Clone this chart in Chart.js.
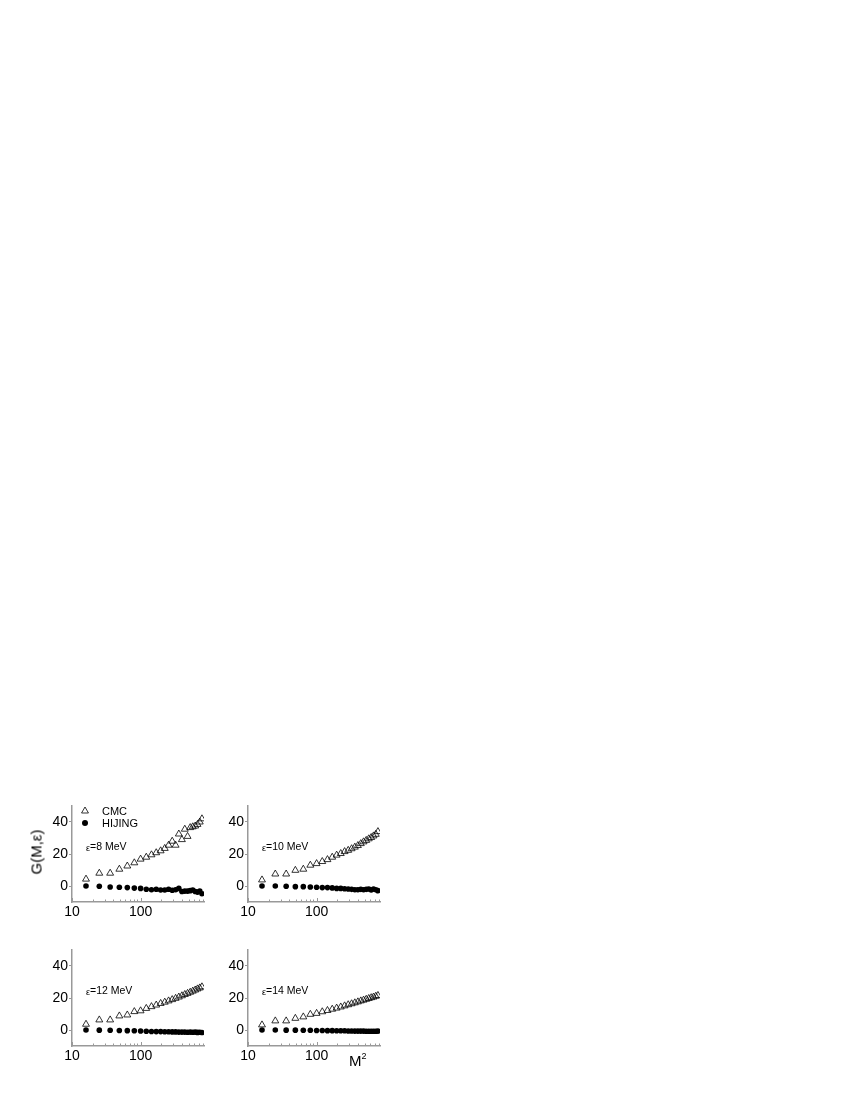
<!DOCTYPE html>
<html>
<head>
<meta charset="utf-8">
<script src="https://cdn.jsdelivr.net/npm/chart.js@4.4.0/dist/chart.umd.min.js"></script>
<style>
  html, body { margin:0; padding:0; background:#fff; }
  body { width:850px; height:1100px; position:relative; font-family:"Liberation Sans", Arial, sans-serif; }
  canvas { position:absolute; }
  .lbl { position:absolute; color:#000; font-weight:normal; font-family:"Liberation Sans", Arial, sans-serif; white-space:nowrap; }
</style>
</head>
<body>
<canvas id="p1" width="215" height="130" style="left:0px;top:795px;width:215px;height:130px"></canvas>
<canvas id="p2" width="176" height="130" style="left:215px;top:795px;width:176px;height:130px"></canvas>
<canvas id="p3" width="215" height="130" style="left:0px;top:939px;width:215px;height:130px"></canvas>
<canvas id="p4" width="176" height="130" style="left:215px;top:939px;width:176px;height:130px"></canvas>
<div class="lbl" id="ytitle" style="left:36px;top:852px;font-size:15px;transform:translate(-50%,-50%) rotate(-90deg);">G(M,ε)</div>
<div class="lbl" id="xtitle" style="left:349px;top:1052px;font-size:15px;">M<sup style="font-size:9px;vertical-align:7px;line-height:0">2</sup></div>
<script>
// ---- data ----
const xValues = [16,25,36,49,64,81,100,121,144,169,196,225,256,289,324,361,400,441,484,529,576,625,676,729,784]; // M^2
const cmc8     = [4.3,8,8,10.5,12.5,14.5,16.8,18,19.5,20.8,22,23.5,25.5,28,25.5,32.5,29,35.5,31,36.5,37,37.5,38.5,40,42];
const hijing8  = [0,-0.2,-0.6,-0.8,-1,-1.3,-1.5,-2,-2.3,-2,-2.5,-2.5,-2,-2.7,-2.3,-1.5,-3.4,-3.2,-3.2,-2.9,-2.5,-3.4,-3.8,-3.2,-4.8];
const cmc10    = [3.8,7.5,7.5,9.8,10.5,13,14,15.3,16.5,18,19.3,20.3,21.5,22.3,23.3,24.3,25.3,26.5,27.6,28.5,29.5,30.3,31.3,32.3,34];
const hijing10 = [0,0,-0.2,-0.4,-0.4,-0.6,-0.8,-1,-1,-1.2,-1.5,-1.5,-1.7,-1.9,-2.1,-2.3,-2.3,-2.1,-2.3,-2.1,-1.9,-2.5,-1.9,-2.3,-2.9];
const cmc12    = [3.6,6.3,6.3,8.8,9.4,11.5,12,13.5,14.6,15.6,16.6,17.4,18.2,19,19.8,20.6,21.4,22.2,22.9,23.6,24.3,25,25.7,26.3,27];
const hijing12 = [0,-0.1,-0.2,-0.3,-0.4,-0.5,-0.6,-0.8,-0.9,-1,-1,-1.1,-1.1,-1.2,-1.2,-1.3,-1.3,-1.3,-1.4,-1.3,-1.4,-1.3,-1.5,-1.4,-1.6];
const cmc14    = [3.2,5.7,5.7,7.3,8.2,9.8,10.4,11.4,12.2,13,13.7,14.4,15.1,15.8,16.4,17,17.6,18.2,18.7,19.2,19.7,20.2,20.6,21.1,21.6];
const hijing14 = [0,0,-0.1,-0.1,-0.2,-0.2,-0.3,-0.3,-0.4,-0.4,-0.5,-0.5,-0.5,-0.6,-0.6,-0.7,-0.7,-0.7,-0.7,-0.8,-0.8,-0.8,-0.8,-0.8,-0.7];
const seriesNames = ['CMC','HIJING'];
const panelLabels = ['ε=8 MeV','ε=10 MeV','ε=12 MeV','ε=14 MeV'];
const yTicks = [0,20,40];
const xTickValues = [10,20,30,40,50,60,70,80,90,100,200,300,400,500,600,700,800];
const xTickLabels = [10,100];

const FONT = '"Liberation Sans", Arial, sans-serif';

const annotPlugin = {
  id: 'annot',
  afterDraw(chart, args, opts) {
    const ctx = chart.ctx;
    const area = chart.chartArea;
    const ys = chart.scales.y;
    const xs = chart.scales.x;
    ctx.save();
    // inward minor/major ticks on the x axis
    ctx.strokeStyle = '#999';
    ctx.lineWidth = 1;
    xTickValues.forEach(v => {
      const px = Math.round(xs.getPixelForValue(v)) + 0.5;
      const len = xTickLabels.includes(v) ? 4 : 2.5;
      ctx.beginPath();
      ctx.moveTo(px, area.bottom);
      ctx.lineTo(px, area.bottom - len);
      ctx.stroke();
    });
    ctx.fillStyle = '#000';
    ctx.textBaseline = 'middle';
    // epsilon label
    const lab = opts.label;
    const ly = ys.getPixelForValue(24);
    let lx = area.left + 14;
    ctx.font = '9px ' + FONT;
    ctx.fillText(lab.charAt(0), lx, ly + 1);
    lx += ctx.measureText(lab.charAt(0)).width;
    ctx.font = '10.5px ' + FONT;
    ctx.fillText(lab.slice(1), lx, ly);
    if (opts.legend) {
      const sx = area.left + 13, tx = area.left + 30;
      const y1 = area.top + 5, y2 = area.top + 17;
      const r = 4;
      ctx.strokeStyle = '#000'; ctx.lineWidth = 0.8;
      ctx.beginPath();
      ctx.moveTo(sx, y1 - r);
      ctx.lineTo(sx + r * 0.866, y1 + r * 0.5);
      ctx.lineTo(sx - r * 0.866, y1 + r * 0.5);
      ctx.closePath(); ctx.stroke();
      ctx.beginPath(); ctx.arc(sx, y2, 3, 0, Math.PI * 2); ctx.fill();
      ctx.font = '11px ' + FONT;
      ctx.fillText(seriesNames[0], tx, y1 + 1);
      ctx.fillText(seriesNames[1], tx, y2 + 1);
    }
    ctx.restore();
  }
};

function makePanel(id, cmc, hij, label, yWidth, legend) {
  return new Chart(document.getElementById(id), {
    type: 'scatter',
    data: {
      datasets: [
        { label: seriesNames[0], data: xValues.map((x, i) => ({ x: x, y: cmc[i] })),
          pointStyle: 'triangle', pointRadius: 4, borderWidth: 0.8,
          borderColor: '#000', backgroundColor: 'rgba(255,255,255,0)' },
        { label: seriesNames[1], data: xValues.map((x, i) => ({ x: x, y: hij[i] })),
          pointStyle: 'circle', pointRadius: 2.8, borderWidth: 0,
          borderColor: '#000', backgroundColor: '#000' }
      ]
    },
    options: {
      responsive: false, animation: false, devicePixelRatio: 1,
      layout: { autoPadding: false, padding: { top: 11, right: 11, left: 0, bottom: 0 } },
      plugins: { legend: { display: false }, tooltip: { enabled: false }, annot: { label: label, legend: legend } },
      scales: {
        x: {
          type: 'logarithmic', min: 10, max: 840,
          afterBuildTicks: s => { s.ticks = xTickValues.map(v => ({ value: v })); },
          afterFit: s => { s.height = 23; },
          ticks: { autoSkip: false, maxRotation: 0, padding: 2, color: '#000',
                   font: { family: FONT, size: 14 },
                   callback: v => xTickLabels.includes(v) ? String(v) : '' },
          grid: { drawOnChartArea: false, drawTicks: false, tickLength: 0, color: '#999', lineWidth: 1 },
          border: { color: '#999', width: 1.5 }
        },
        y: {
          min: -10, max: 50,
          afterBuildTicks: s => { s.ticks = yTicks.map(v => ({ value: v })); },
          afterFit: s => { s.width = yWidth; },
          ticks: { padding: 1, color: '#000', font: { family: FONT, size: 14 } },
          grid: { drawOnChartArea: false, tickLength: 3, color: '#999', lineWidth: 1 },
          border: { color: '#999', width: 1.5 }
        }
      }
    },
    plugins: [annotPlugin]
  });
}

makePanel('p1', cmc8, hijing8, panelLabels[0], 72, true);
makePanel('p2', cmc10, hijing10, panelLabels[1], 33, false);
makePanel('p3', cmc12, hijing12, panelLabels[2], 72, false);
makePanel('p4', cmc14, hijing14, panelLabels[3], 33, false);
</script>
</body>
</html>
